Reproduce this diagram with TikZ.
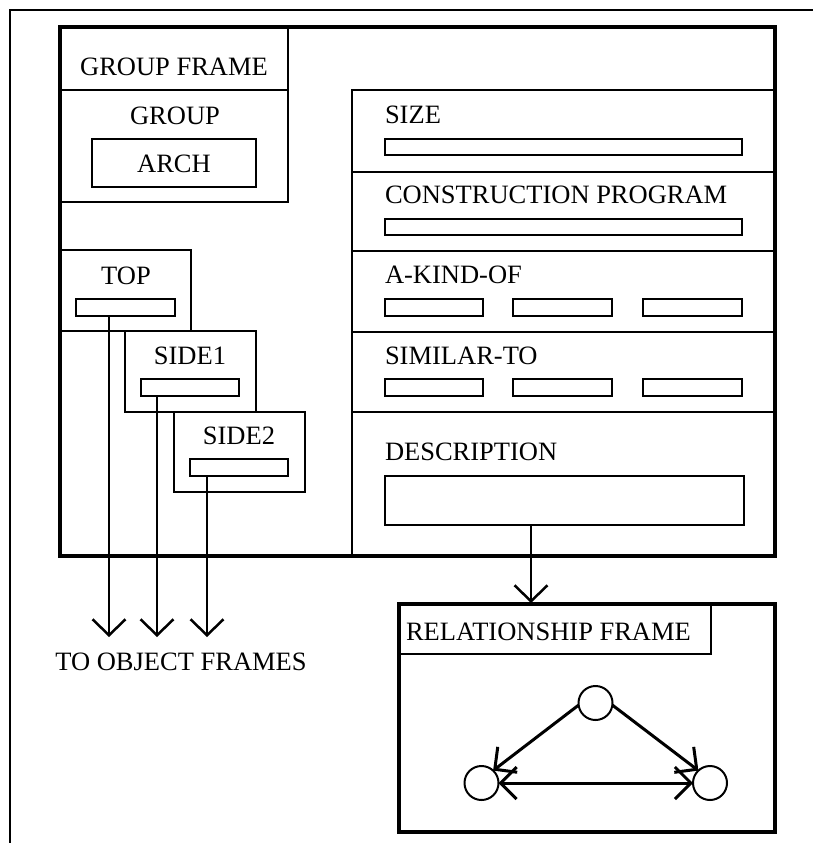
\documentclass[tikz,border=0pt]{standalone}
\usepackage{fontspec}
\setmainfont{Liberation Serif}
\usetikzlibrary{arrows.meta}
\begin{document}
\begin{tikzpicture}[x=1pt,y=-1pt,
  bx/.style={draw, rectangle, line width=2.5pt, inner sep=0pt, outer sep=0pt},
  thick frame/.style={draw, rectangle, line width=4pt, inner sep=0pt, outer sep=0pt},
  lbl/.style={inner sep=0pt, outer sep=0pt, font=\fontsize{26.5}{30}\selectfont},
  circ/.style={draw, circle, line width=2pt, minimum size=34pt, inner sep=0pt, outer sep=0pt},
  objarrow/.style={line width=2.5pt, -{Straight Barb[length=16pt,width=33pt]}},
  relarrow/.style={line width=3pt, -{Straight Barb[length=16pt,width=32pt]}},
  relboth/.style={line width=3pt, {Straight Barb[length=16pt,width=32pt]}-{Straight Barb[length=16pt,width=32pt]}}]
\useasboundingbox (0,0) rectangle (813,843);
% outer border (only top and left visible)
\draw[line width=2pt] (10,843) -- (10,10) -- (813,10);

% group frame
\node[bx, minimum width=228pt, minimum height=63pt] (gfhead) at (174,58.5) {};
\node[bx, minimum width=228pt, minimum height=112pt] (gfbody) at (174,146) {};
\node[bx, minimum width=164pt, minimum height=48pt] (arch) at (174,163) {};
\node[lbl, anchor=base] (lgf) at (174,75) {GROUP FRAME};
\node[lbl, anchor=base] (lgroup) at (175,124) {GROUP};
\node[lbl, anchor=base] (larch) at (174,172) {ARCH};

% parts
\node[bx, minimum width=131pt, minimum height=81pt] (top) at (125.5,290.5) {};
\node[bx, minimum width=99pt, minimum height=17pt] (topv) at (125.5,307.5) {};
\node[bx, minimum width=131pt, minimum height=81pt] (side1) at (190.5,371.5) {};
\node[bx, minimum width=98pt, minimum height=17pt] (s1v) at (190,387.5) {};
\node[bx, minimum width=131pt, minimum height=80pt] (side2) at (239.5,452) {};
\node[bx, minimum width=98pt, minimum height=17pt] (s2v) at (239,467.5) {};
\node[lbl, anchor=base] (ltop) at (126,284) {TOP};
\node[lbl, anchor=base] (lside1) at (190,364) {SIDE1};
\node[lbl, anchor=base] (lside2) at (239,444) {SIDE2};

% right panel rows
\node[bx, minimum width=423pt, minimum height=82pt] (rsize) at (563.5,131) {};
\node[bx, minimum width=423pt, minimum height=79pt] (rcp) at (563.5,211.5) {};
\node[bx, minimum width=423pt, minimum height=81pt] (rako) at (563.5,291.5) {};
\node[bx, minimum width=423pt, minimum height=80pt] (rsim) at (563.5,372) {};
\node[bx, minimum width=423pt, minimum height=144pt] (rdesc) at (563.5,484) {};

\node[bx, minimum width=357pt, minimum height=16pt] (vsize) at (563.5,147) {};
\node[bx, minimum width=357pt, minimum height=16pt] (vcp) at (563.5,227) {};
\node[bx, minimum width=98pt, minimum height=17pt] (ako1) at (434,307.5) {};
\node[bx, minimum width=99pt, minimum height=17pt] (ako2) at (562.5,307.5) {};
\node[bx, minimum width=99pt, minimum height=17pt] (ako3) at (692.5,307.5) {};
\node[bx, minimum width=98pt, minimum height=17pt] (sim1) at (434,387.5) {};
\node[bx, minimum width=99pt, minimum height=17pt] (sim2) at (562.5,387.5) {};
\node[bx, minimum width=99pt, minimum height=17pt] (sim3) at (692.5,387.5) {};
\node[bx, minimum width=359pt, minimum height=49pt] (vdesc) at (564.5,500.5) {};

\node[lbl, anchor=base west] (lsize) at (385,123) {SIZE};
\node[lbl, anchor=base west] (lcp) at (385,203) {CONSTRUCTION PROGRAM};
\node[lbl, anchor=base west] (lako) at (385,283) {A-KIND-OF};
\node[lbl, anchor=base west] (lsim) at (385,364) {SIMILAR-TO};
\node[lbl, anchor=base west] (ldesc) at (385,460) {DESCRIPTION};

% main frame on top
\node[thick frame, minimum width=715pt, minimum height=529pt] (main) at (417.5,291.5) {};

% arrows to object frames
\coordinate (o1) at (109,637);
\coordinate (o2) at (157,637);
\coordinate (o3) at (207,637);
\draw[objarrow] (topv.south -| o1) -- (o1);
\draw[objarrow] (s1v.south -| o2) -- (o2);
\draw[objarrow] (s2v.south -| o3) -- (o3);
\node[lbl, anchor=base] (lobj) at (181,670) {TO OBJECT FRAMES};

% relationship frame
\node[bx, minimum width=312pt, minimum height=50pt] (relhead) at (555,629) {};
\node[thick frame, minimum width=376pt, minimum height=228pt] (rel) at (587,718) {};
\node[lbl, anchor=base west] (lrel) at (406,640) {RELATIONSHIP FRAME};
\coordinate (dtip) at (531,603);
\draw[objarrow] (vdesc.south -| dtip) -- (dtip);

\node[circ] (ct) at (595.5,703) {};
\node[circ] (cl) at (481.5,783) {};
\node[circ] (cr) at (710,783) {};
\draw[relarrow] (ct.187) -- (cl.47);
\draw[relarrow] (ct.-7) -- (cr.133);
\draw[relboth] (cl.east) -- (cr.west);
\end{tikzpicture}
\end{document}
